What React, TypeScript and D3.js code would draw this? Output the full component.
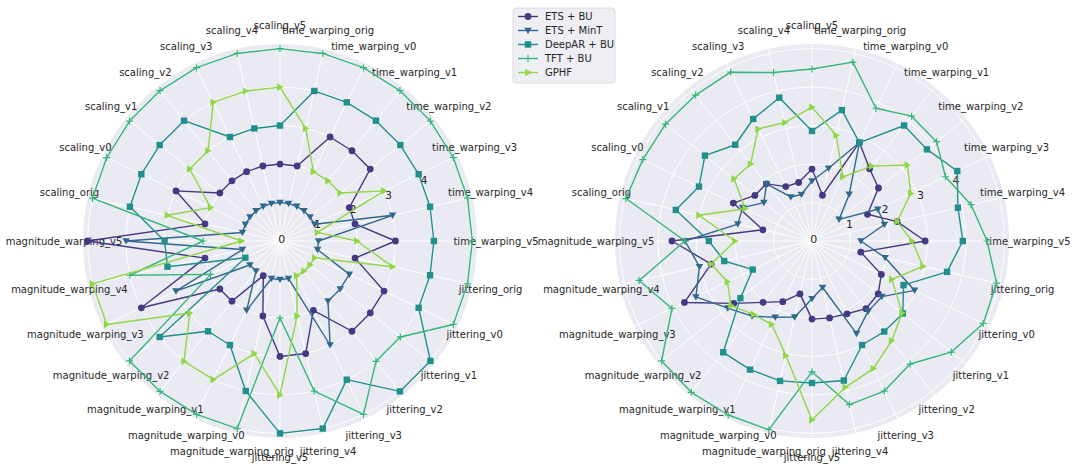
import React from "react";
import * as d3 from "d3";

const categories = [
  "time_warping_orig", "time_warping_v0", "time_warping_v1", "time_warping_v2", "time_warping_v3", "time_warping_v4", "time_warping_v5",
  "jittering_orig", "jittering_v0", "jittering_v1", "jittering_v2", "jittering_v3", "jittering_v4", "jittering_v5",
  "magnitude_warping_orig", "magnitude_warping_v0", "magnitude_warping_v1", "magnitude_warping_v2", "magnitude_warping_v3", "magnitude_warping_v4", "magnitude_warping_v5",
  "scaling_orig", "scaling_v0", "scaling_v1", "scaling_v2", "scaling_v3", "scaling_v4", "scaling_v5",
];
// spokes start at the top with the last category
const spokeOrder = [categories[categories.length - 1], ...categories.slice(0, -1)];

const methods = ["ETS + BU", "ETS + MinT", "DeepAR + BU", "TFT + BU", "GPHF"];
const colors = ["#443a83", "#31688e", "#21908c", "#35b779", "#8fd744"];
const markers = ["o", "v", "s", "+", ">"];
const radialTicks = [0, 1, 2, 3, 4];
const gridRings = [1, 2, 3, 4, 5];

// left panel
const leftEtsBu = [2, 3, 3, 3, 2, 2, 3, 2, 3, 3, 3, 2, 3, 3, 2, 1, 2, 2, 4, 2, 5, 2, 3, 2, 2, 2, 2, 2];
const leftEtsMinT = [1, 1, 1, 1, 1, 3, 1, 1, 2, 2, 2, 3, 1, 1, 1, 2, 1, 1, 3, 1, 4, 1, 1, 1, 1, 1, 1, 1];
const leftDeepAR = [4, 4, 4, 4, 4, 4, 4, 4, 4, 5, 5, 4, 5, 5, 4, 3, 3, 4, 1, 3, 3, 4, 4, 4, 4, 3, 3, 3];
const leftTFT = [5, 5, 5, 5, 5, 5, 5, 5, 5, 4, 4, 5, 4, 2, 5, 5, 5, 5, 2, 4, 2, 5, 5, 5, 5, 5, 5, 5];
const leftGPHF = [3, 2, 2, 2, 3, 1, 2, 3, 1, 1, 1, 1, 2, 4, 3, 4, 4, 3, 5, 5, 1, 3, 2, 3, 3, 4, 4, 4];

// right panel
const rightEtsBu = [1.22, 2.84, 2.4, 2.21, 1.6, 2.27, 2.94, 1.3, 2.0, 2.2, 2.25, 2.1, 2.05, 2.03, 1.41, 1.75, 2.04, 2.6, 3.68, 2.69, 3.64, 1.31, 2.27, 1.9, 1.9, 1.57, 1.56, 1.87];
const rightEtsMinT = [1.94, 2.84, 1.55, 0.9, 1.9, 1.93, 1.27, 1.95, 2.96, 2.32, 2.34, 2.67, 1.24, 1.5, 2.03, 2.2, 2.5, 2.8, 3.35, 3.0, 3.3, 1.98, 2.0, 1.6, 1.9, 1.27, 1.24, 1.56];
const rightDeepAR = [3.49, 2.84, 3.84, 3.82, 4.19, 3.89, 3.92, 3.6, 2.64, 3.02, 3.01, 3.0, 3.72, 3.69, 3.73, 3.71, 3.7, 2.38, 1.71, 2.34, 2.68, 3.63, 3.26, 3.56, 3.2, 3.52, 3.82, 2.86];
const rightTFT = [4.77, 3.83, 4.15, 4.14, 3.85, 4.24, 4.55, 4.92, 4.94, 4.63, 4.09, 4.33, 4.36, 3.4, 5.03, 5.02, 5.03, 5.0, 4.04, 4.61, 3.3, 4.96, 4.88, 4.87, 4.85, 4.87, 4.49, 4.47];
const rightGPHF = [2.82, 1.85, 2.49, 3.17, 2.85, 2.27, 2.6, 2.96, 2.3, 3.0, 3.32, 3.68, 3.9, 4.65, 3.05, 2.41, 2.44, 2.69, 2.44, 2.69, 2.0, 3.01, 1.93, 2.59, 2.56, 3.23, 3.16, 3.48];

const RADIUS = 197;
const R_MAX = 5.12;
const FONT = "DejaVu Sans, sans-serif";

function Marker({ kind, x, y, color }: { kind: string; x: number; y: number; color: string }) {
  if (kind === "o") return <circle cx={x} cy={y} r={3.4} fill={color} />;
  if (kind === "s") return <rect x={x - 3.2} y={y - 3.2} width={6.4} height={6.4} fill={color} />;
  if (kind === "v") return <path d={`M${x - 3.8},${y - 2.8}L${x + 3.8},${y - 2.8}L${x},${y + 3.6}Z`} fill={color} />;
  if (kind === ">") return <path d={`M${x - 2.8},${y - 3.8}L${x - 2.8},${y + 3.8}L${x + 3.6},${y}Z`} fill={color} />;
  return <path d={`M${x - 3.5},${y}H${x + 3.5}M${x},${y - 3.5}V${y + 3.5}`} stroke={color} strokeWidth={1.2} />;
}

function Radar({ cx, cy, data }: { cx: number; cy: number; data: number[][] }) {
  const r = d3.scaleLinear().domain([0, R_MAX]).range([0, RADIUS]);
  const angle = d3.scaleBand<string>().domain(spokeOrder).range([0, 2 * Math.PI]).paddingInner(0).paddingOuter(0).align(0);
  const ang = (c: string) => angle(c) ?? 0;
  const pt = (c: string, v: number): [number, number] => [r(v) * Math.sin(ang(c)), -r(v) * Math.cos(ang(c))];
  const line = d3
    .lineRadial<[string, number]>()
    .angle((d) => ang(d[0]))
    .radius((d) => r(d[1]))
    .curve(d3.curveLinearClosed);
  const labelAngle = (67.5 * Math.PI) / 180;

  return (
    <g transform={`translate(${cx},${cy})`}>
      <circle r={RADIUS} fill="#eaeaf2" />
      {gridRings.map((t) => (
        <circle key={t} r={r(t)} fill="none" stroke="#ffffff" strokeWidth={1} />
      ))}
      {spokeOrder.map((c) => {
        const [x, y] = pt(c, R_MAX);
        return <line key={c} x1={0} y1={0} x2={x} y2={y} stroke="#ffffff" strokeWidth={1} />;
      })}
      {radialTicks.map((t) => (
        <text key={t} x={(r(t) + 2) * Math.sin(labelAngle)} y={-(r(t) + 2) * Math.cos(labelAngle) - 1}
              textAnchor="middle" dominantBaseline="central" fontSize={11} fontFamily={FONT} fill="#262626">
          {t}
        </text>
      ))}
      {spokeOrder.map((c) => {
        const a = ang(c);
        return (
          <text key={c} x={216 * Math.sin(a)} y={-216 * Math.cos(a)} textAnchor="middle" dominantBaseline="central"
                fontSize={10} fontFamily={FONT} fill="#262626">
            {c}
          </text>
        );
      })}
      {data.map((vals, si) => {
        const pts = categories.map((c, i) => [c, vals[i]] as [string, number]);
        return (
          <g key={methods[si]}>
            <path d={line(pts) ?? undefined} fill="none" stroke={colors[si]} strokeWidth={1.4} strokeLinejoin="round" />
            {pts.map(([c, v]) => {
              const [x, y] = pt(c, v);
              return <Marker key={c} kind={markers[si]} x={x} y={y} color={colors[si]} />;
            })}
          </g>
        );
      })}
    </g>
  );
}

function Legend({ x, y }: { x: number; y: number }) {
  return (
    <g transform={`translate(${x},${y})`}>
      <rect width={102} height={75} rx={3} fill="#eeeef4" stroke="#d5d5d5" strokeWidth={0.8} />
      {methods.map((m, i) => {
        const ly = 8.5 + i * 14;
        return (
          <g key={m}>
            <line x1={5} x2={25} y1={ly} y2={ly} stroke={colors[i]} strokeWidth={1.4} />
            <Marker kind={markers[i]} x={15} y={ly} color={colors[i]} />
            <text x={32} y={ly} dominantBaseline="central" fontSize={10} fontFamily={FONT} fill="#262626">{m}</text>
          </g>
        );
      })}
    </g>
  );
}

export default function App() {
  const left = [leftEtsBu, leftEtsMinT, leftDeepAR, leftTFT, leftGPHF];
  const right = [rightEtsBu, rightEtsMinT, rightDeepAR, rightTFT, rightGPHF];
  return (
    <svg width={1080} height={474} style={{ position: "absolute", left: 0, top: 0, background: "#ffffff" }}>
      <Radar cx={280} cy={241} data={left} />
      <Radar cx={812} cy={241} data={right} />
      <Legend x={513} y={8} />
    </svg>
  );
}
